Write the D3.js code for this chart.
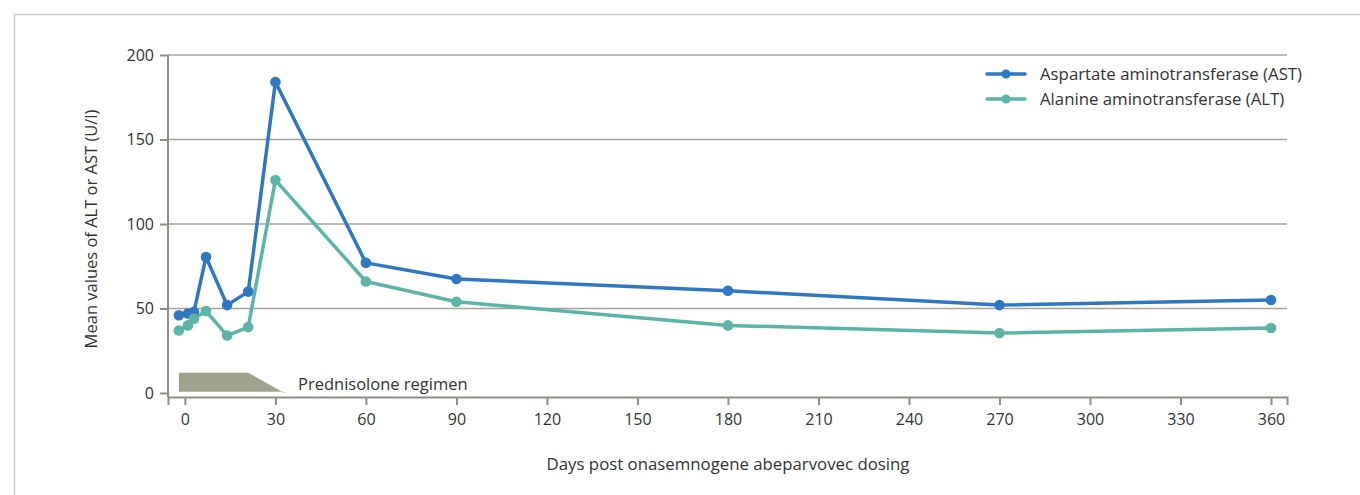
<!DOCTYPE html>
<html lang="en">
  <head>
    <meta charset="utf-8" />
    <title>AST / ALT after onasemnogene abeparvovec</title>
    <script src="https://d3js.org/d3.v7.min.js"></script>
    <style>
      body { margin: 0; background: #fff; }
      text { font-family: "Open Sans", "Liberation Sans", sans-serif; fill: #333; }
    </style>
  </head>
  <body>
    <svg id="chart" width="1360" height="495"></svg>
    <script>
      // data
      const days = [-2, 1, 3, 7, 14, 21, 30, 60, 90, 180, 270, 360];
      const astValues = [46, 47, 48, 80.5, 52, 60, 184, 77, 67.5, 60.5, 52, 55];
      const altValues = [37, 40, 44, 48.5, 34, 39, 126, 66, 54, 40, 35.5, 38.5];
      const xTicks = [0, 30, 60, 90, 120, 150, 180, 210, 240, 270, 300, 330, 360];
      const yTicks = [0, 50, 100, 150, 200];
      const seriesNames = ["Aspartate aminotransferase (AST)", "Alanine aminotransferase (ALT)"];
      // prednisolone band: [day, height]
      const predDays = [-2, 21, 33];
      const predLevel = [12, 12, 0];

      const svg = d3.select("#chart");
      const gridCol = "#a3a39b", axisCol = "#8e8e84";
      const colors = ["#2f77c2", "#5bb4a6"];

      // page frame
      svg.append("path").attr("d", "M14.5,495V14.5H1360")
        .attr("fill", "none").attr("stroke", "#c9cabd").attr("stroke-width", 1.5);

      const x = d3.scaleLinear().domain([-5.6, 365.3]).range([168, 1287]);
      const y = d3.scaleLinear().domain([0, 200]).range([393, 55]);

      // grid lines
      svg.append("g").selectAll("line")
        .data(yTicks.filter(d => d > 0))
        .join("line")
        .attr("x1", x(-5.6)).attr("x2", x(365.3))
        .attr("y1", d => y(d)).attr("y2", d => y(d))
        .attr("stroke", gridCol).attr("stroke-width", 1.3);

      // y axis
      const yAxis = svg.append("g").attr("transform", "translate(168,0)")
        .call(d3.axisLeft(y).tickValues(yTicks).tickSize(8).tickPadding(6));
      yAxis.select(".domain").attr("d", "M0," + y(200) + "V397");

      // x axis
      const xAxis = svg.append("g").attr("transform", "translate(0,397)")
        .call(d3.axisBottom(x).tickValues(xTicks).tickSize(8).tickPadding(9));
      [yAxis, xAxis].forEach(a => {
        a.select(".domain").attr("stroke", axisCol).attr("stroke-width", 2);
        a.selectAll(".tick line").attr("stroke", axisCol).attr("stroke-width", 2);
        a.selectAll(".tick text").attr("font-size", 16).attr("fill", "#333")
          .attr("font-family", "'Open Sans', 'Liberation Sans', sans-serif");
      });

      // prednisolone regimen shape
      const predPts = predDays.map((d, i) => [x(d), y(predLevel[i])]);
      predPts.push([x(33), y(0.8)], [x(-2), y(0.8)]);
      svg.append("path")
        .attr("d", d3.line()(predPts) + "Z")
        .attr("fill", "#a1a28e");
      svg.append("text").attr("x", 298).attr("y", 390)
        .attr("font-size", 16.5).text("Prednisolone regimen");

      // series
      [astValues, altValues].forEach((vals, i) => {
        const pts = days.map((d, j) => [d, vals[j]]);
        svg.append("path").datum(pts)
          .attr("fill", "none").attr("stroke", colors[i]).attr("stroke-width", 3.5)
          .attr("stroke-linejoin", "round")
          .attr("d", d3.line().x(d => x(d[0])).y(d => y(d[1])));
        svg.append("g").selectAll("circle").data(pts).join("circle")
          .attr("cx", d => x(d[0])).attr("cy", d => y(d[1])).attr("r", 5.3)
          .attr("fill", colors[i]);
      });

      // legend
      seriesNames.forEach((name, i) => {
        const ly = 74 + i * 25;
        svg.append("line").attr("x1", 987).attr("x2", 1025).attr("y1", ly).attr("y2", ly)
          .attr("stroke", colors[i]).attr("stroke-width", 3.5).attr("stroke-linecap", "round");
        svg.append("circle").attr("cx", 1006).attr("cy", ly).attr("r", 4.5).attr("fill", colors[i]);
        svg.append("text").attr("x", 1040).attr("y", ly + 6).attr("font-size", 16.8).text(name);
      });

      // axis titles
      svg.append("text").attr("x", 728).attr("y", 470).attr("text-anchor", "middle")
        .attr("font-size", 16.8).text("Days post onasemnogene abeparvovec dosing");
      svg.append("text")
        .attr("transform", "translate(97,229) rotate(-90)")
        .attr("text-anchor", "middle").attr("font-size", 16.5)
        .text("Mean values of ALT or AST (U/l)");
    </script>
  </body>
</html>
